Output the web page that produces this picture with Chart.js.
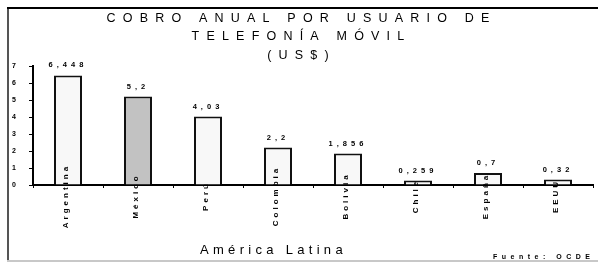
<!DOCTYPE html>
<html><head><meta charset="utf-8">
<script src="https://cdn.jsdelivr.net/npm/chart.js@4"></script>
<style>html,body{margin:0;padding:0;background:#fff}#wrap{width:598px;height:263px}</style>
</head><body><div id="wrap"><canvas id="c" width="598" height="263"></canvas></div>
<script>
// ---- data ----
const categories = ["Argentina", "México", "Perú", "Colombia", "Bolivia", "Chile", "España", "EEUU"];
const values = [6.448, 5.2, 4.03, 2.2, 1.856, 0.259, 0.7, 0.32];
const valueLabels = ["6,448", "5,2", "4,03", "2,2", "1,856", "0,259", "0,7", "0,32"];
const yTickValues = [0, 1, 2, 3, 4, 5, 6, 7];
const titleLines = ["COBRO ANUAL POR USUARIO DE", "TELEFONÍA MÓVIL", "(US$)"];
const groupLabel = "América Latina";
const sourceNote = "Fuente: OCDE";

// ---- styles ----
const FONT = "'Liberation Sans', Arial, Helvetica, sans-serif";
const highlightIndex = 1;

const decor = {
  id: 'decor',
  beforeDraw(chart) {
    const ctx = chart.ctx;
    ctx.save();
    ctx.fillStyle = '#fff';
    ctx.fillRect(0, 0, chart.width, chart.height);
    ctx.restore();
    ctx.letterSpacing = '7.2px'; // title spacing
  },
  beforeDatasetsDraw(chart) {
    chart.ctx.letterSpacing = '0px';
  },
  afterDatasetsDraw(chart) {
    const ctx = chart.ctx;
    const xs = chart.scales.x;
    const meta = chart.getDatasetMeta(0);
    ctx.save();
    ctx.fillStyle = '#000';
    // value labels
    ctx.font = 'bold 7.5px ' + FONT;
    ctx.letterSpacing = '4px';
    ctx.textAlign = 'center';
    ctx.textBaseline = 'middle';
    meta.data.forEach((bar, i) => {
      ctx.fillText(valueLabels[i], bar.x, bar.y - 10);
    });
    // category labels, rotated, centred on the axis line
    ctx.font = 'bold 8px ' + FONT;
    ctx.letterSpacing = '3px';
    categories.forEach((c, i) => {
      const x = xs.getPixelForValue(i) - 2;
      ctx.save();
      ctx.translate(x, 196);
      ctx.rotate(-Math.PI / 2);
      ctx.fillText(c, 0, 0);
      ctx.restore();
    });
    ctx.restore();
  },
  afterDraw(chart) {
    const ctx = chart.ctx;
    ctx.save();
    // frame
    ctx.fillStyle = '#000';
    ctx.fillRect(7, 7, chart.width - 7, 2);
    ctx.fillStyle = '#555';
    ctx.fillRect(7, 9, 2, 252);
    ctx.fillStyle = '#c8c8c8';
    ctx.fillRect(7, 260, chart.width - 7, 2);
    // bottom texts
    ctx.fillStyle = '#000';
    ctx.textAlign = 'left';
    ctx.textBaseline = 'alphabetic';
    ctx.font = '13px ' + FONT;
    ctx.letterSpacing = '4.3px';
    ctx.fillText(groupLabel, 200, 254);
    ctx.font = 'bold 7px ' + FONT;
    ctx.letterSpacing = '4.5px';
    ctx.fillText(sourceNote, 493, 259);
    ctx.restore();
  }
};

new Chart(document.getElementById('c'), {
  type: 'bar',
  data: {
    labels: categories,
    datasets: [{
      data: values,
      backgroundColor: (c) => c.dataIndex === highlightIndex ? '#c2c2c2' : '#f8f8f8',
      borderColor: '#111',
      borderWidth: 2,
      barPercentage: 0.4,
      categoryPercentage: 1
    }]
  },
  options: {
    responsive: false,
    animation: false,
    events: [],
    layout: { padding: { top: 9, left: 10, right: 5, bottom: 75 } },
    plugins: {
      legend: { display: false },
      tooltip: { enabled: false },
      title: {
        display: true,
        text: titleLines,
        color: '#000',
        font: { family: FONT, size: 12.5, weight: 'normal', lineHeight: 1.48 },
        padding: { top: 0, bottom: 1.5 }
      }
    },
    scales: {
      x: {
        offset: true,
        grid: { offset: true, drawOnChartArea: false, drawTicks: true, tickLength: 3, color: '#000', lineWidth: 1 },
        border: { display: true, color: '#000', width: 2 },
        ticks: { display: false }
      },
      y: {
        min: 0, max: 7,
        afterBuildTicks: (s) => { s.ticks = yTickValues.map(v => ({ value: v })); },
        afterFit: (s) => { s.width = 23; },
        grid: { drawOnChartArea: false, drawTicks: true, tickLength: 4, color: '#000', lineWidth: 1 },
        border: { display: true, color: '#000', width: 2 },
        ticks: { z: 1, color: '#000', padding: 13, font: { family: FONT, size: 7, weight: 'bold' } }
      }
    }
  },
  plugins: [decor]
});
</script>
</body></html>
